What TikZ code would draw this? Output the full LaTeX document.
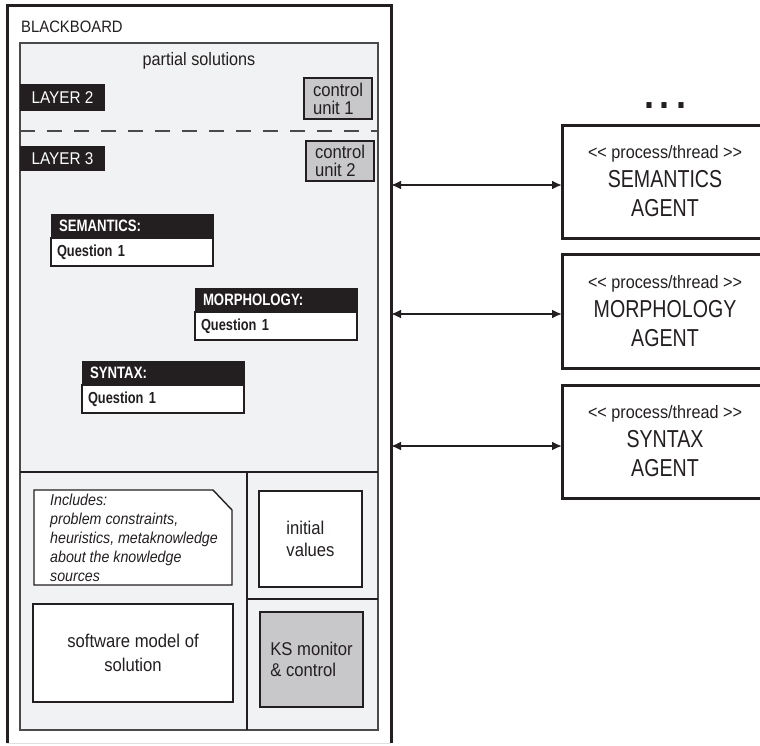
\documentclass[tikz,border=0pt]{standalone}
\usepackage{fontspec}
\setmainfont{Liberation Sans}[FakeStretch=0.9]
\newfontfamily\cf{Liberation Sans}[FakeStretch=0.8]
\usetikzlibrary{arrows.meta}
\definecolor{ink}{HTML}{231F20}
\definecolor{pane}{HTML}{F1F2F4}
\definecolor{unitgray}{HTML}{C8C8CA}
\definecolor{edge}{HTML}{4A4A4A}
\begin{document}
\begin{tikzpicture}[x=1pt,y=-1pt,
  every node/.style={text=ink},
  box/.style={draw=ink, line width=1.4pt, anchor=north west, inner sep=0pt, outer sep=0pt},
  tag/.style={fill=ink, text=white, anchor=north west, inner sep=0pt, outer sep=0pt, font=\fontsize{17}{20}\selectfont},
  hdr/.style={anchor=north west, fill=ink, draw=ink, line width=1pt, text=white, font=\cf\bfseries\fontsize{16.5}{19}\selectfont, minimum height=24pt, text width=146pt, inner xsep=8pt, inner ysep=0pt, outer sep=0pt, align=left},
  qbody/.style={anchor=north west, fill=white, draw=ink, line width=1.4pt, font=\cf\bfseries\fontsize{16}{19}\selectfont, minimum height=28pt, text width=150pt, inner xsep=6pt, inner ysep=0pt, outer sep=0pt, align=left},
  agent/.style={draw=ink, line width=3pt, anchor=north west, inner sep=0pt, outer sep=0pt, minimum width=240pt},
  agenttext/.style={align=center, font=\cf\fontsize{24.5}{29}\selectfont, inner sep=0pt},
  arr/.style={{Latex[length=10pt,width=9pt]}-{Latex[length=10pt,width=9pt]}, line width=2.5pt, draw=ink}
]
\clip (0,0) rectangle (760,745);
\fill[white] (0,0) rectangle (760,745);

% outer blackboard
\node[anchor=north west, minimum width=384pt, minimum height=738pt, inner sep=0pt, outer sep=0pt] (bb) at (7,5) {};
\draw[black!12, line width=1pt] (bb.south west) -- (bb.south east);
\draw[ink, line width=3pt] (bb.south west) -- (bb.north west) -- (bb.north east) -- (bb.south east);
\node[anchor=base west, inner sep=0pt, font=\fontsize{16.5}{20}\selectfont] (bbt) at (21,32) {BLACKBOARD};

% inner pane
\node[draw=edge, fill=pane, line width=1.5pt, anchor=north west, minimum width=358pt, minimum height=687pt, inner sep=0pt, outer sep=0pt] (ps) at (20,43) {};
\node[anchor=base, inner sep=0pt, font=\fontsize{18}{20}\selectfont] (pst) at (199,65) {partial solutions};

\node[tag, minimum width=85pt, minimum height=27pt] (l2) at (20,84) {LAYER 2};
\node[box, fill=unitgray, minimum width=68pt, minimum height=41pt, align=left, font=\fontsize{18.5}{18}\selectfont] (cu1) at (304,78) {control\\unit 1};
\draw[edge, line width=1.6pt, dash pattern=on 15pt off 12pt] (20,131) -- (378,131);
\node[tag, minimum width=85pt, minimum height=25pt] (l3) at (20,146) {LAYER 3};
\node[box, fill=unitgray, minimum width=68pt, minimum height=40pt, align=left, font=\fontsize{18.5}{18}\selectfont] (cu2) at (306,141) {control\\unit 2};

% question cards
\node[hdr] (semh) at (51,214) {SEMANTICS:};
\node[qbody] (semb) at (semh.south west) {Question 1};
\node[hdr] (morh) at (195,288) {MORPHOLOGY:};
\node[qbody] (morb) at (morh.south west) {Question 1};
\node[hdr] (synh) at (82,361) {SYNTAX:};
\node[qbody] (synb) at (synh.south west) {Question 1};

% lower section
\draw[ink, line width=1.4pt] (20,472) -- (378,472);
\draw[ink, line width=1.4pt] (247,472) -- (247,730);
\draw[ink, line width=1.4pt] (247,599) -- (378,599);

\draw[ink, fill=white, line width=1.4pt] (34,490) -- (213,490) -- (232,510) -- (232,585) -- (34,585) -- cycle;
\node[anchor=north west, align=left, inner sep=0pt, font=\itshape\fontsize{15.8}{19}\selectfont] (note) at (50,493.5) {Includes:\\problem constraints,\\heuristics, metaknowledge\\about the knowledge\\sources};

\node[box, fill=white, minimum width=103pt, minimum height=96pt, align=left, font=\fontsize{18.5}{22}\selectfont] (iv) at (259,491) {initial\\values};
\node[box, fill=white, minimum width=200pt, minimum height=98pt, align=center, font=\fontsize{18.5}{24}\selectfont] (sm) at (33,604) {software model of\\solution};
\node[box, fill=unitgray, minimum width=103pt, minimum height=95pt, align=left, font=\fontsize{18.5}{21}\selectfont] (ks) at (260,612) {KS monitor\\\& control};

% agents
\node[anchor=base, inner sep=0pt, font=\bfseries\fontsize{40}{40}\selectfont] (dots) at (665,108) {.\hspace{6pt}.\hspace{6pt}.};

\node[agent, minimum height=113pt] (asem) at (562,125) {};
\node[agenttext] (asemt) at (665,181.5) {{\rmfamily\fontsize{18}{29}\selectfont <\kern0pt< process/thread >\kern0pt>}\\SEMANTICS\\AGENT};
\node[agent, minimum height=114pt] (amor) at (562,254) {};
\node[agenttext] (amort) at (665,311) {{\rmfamily\fontsize{18}{29}\selectfont <\kern0pt< process/thread >\kern0pt>}\\MORPHOLOGY\\AGENT};
\node[agent, minimum height=113pt] (asyn) at (562,385) {};
\node[agenttext] (asynt) at (665,441.5) {{\rmfamily\fontsize{18}{29}\selectfont <\kern0pt< process/thread >\kern0pt>}\\SYNTAX\\AGENT};

\coordinate (s1) at ([yshift=-3.5pt]asem.west);
\coordinate (s2) at ([yshift=-3pt]amor.west);
\coordinate (s3) at ([yshift=-4.5pt]asyn.west);
\draw[arr] (s1 -| bb.east) -- (s1);
\draw[arr] (s2 -| bb.east) -- (s2);
\draw[arr] (s3 -| bb.east) -- (s3);
\end{tikzpicture}
\end{document}
